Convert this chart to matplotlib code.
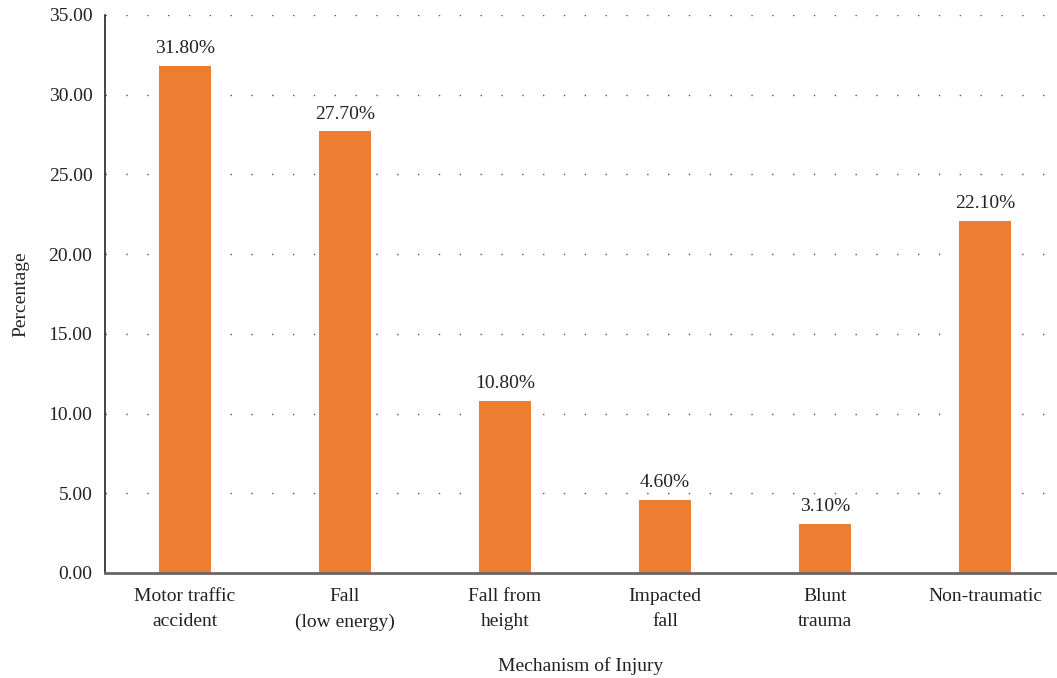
import numpy as np
from matplotlib import pyplot as plt
from matplotlib.ticker import FormatStrFormatter

plt.rcParams['font.family'] = ['Liberation Serif', 'DejaVu Serif']

categories = ['Motor traffic\naccident', 'Fall\n(low energy)', 'Fall from\nheight',
              'Impacted\nfall', 'Blunt\ntrauma', 'Non-traumatic']
values = [31.8, 27.7, 10.8, 4.6, 3.1, 22.1]
yticks = [0, 5, 10, 15, 20, 25, 30, 35]

fig = plt.figure(figsize=(10.57, 6.78), dpi=100)
ax = fig.add_axes([0.0993, 0.1549, 0.9007, 0.8231])

ind = np.arange(len(values))
rects = ax.bar(ind, values, width=0.325, color='#ED7D31', zorder=3)

for rect, v in zip(rects, values):
    ax.text(rect.get_x() + rect.get_width() / 2., v + 0.55, "{0:.2f}%".format(v),
            ha='center', va='bottom', fontsize=14, color='#222222')

ax.set_xlim(-0.5, 5.45)
ax.set_ylim(0, 35)
ax.set_yticks(yticks)
ax.yaxis.set_major_formatter(FormatStrFormatter('%.2f'))
ax.set_xticks(ind)
ax.set_xticklabels(categories, fontsize=14, color='#222222', linespacing=1.6)
ax.tick_params(axis='y', length=0, labelsize=14, labelcolor='#222222', pad=9)
ax.tick_params(axis='x', length=0, pad=11)

ax.grid(axis='y', linestyle=(0, (1, 14)), color='#555555', linewidth=1, zorder=0)
for s in ['top', 'right']:
    ax.spines[s].set_visible(False)
ax.spines['left'].set_color('#222222')
ax.spines['left'].set_linewidth(1.2)
ax.spines['bottom'].set_color('#666666')
ax.spines['bottom'].set_linewidth(2)
ax.spines['bottom'].set_zorder(4)

ax.set_ylabel("Percentage", fontsize=14, color='#222222', labelpad=14)
ax.set_xlabel("Mechanism of Injury", fontsize=14, color='#222222', labelpad=19)

fig.savefig('out.png', dpi=100)
